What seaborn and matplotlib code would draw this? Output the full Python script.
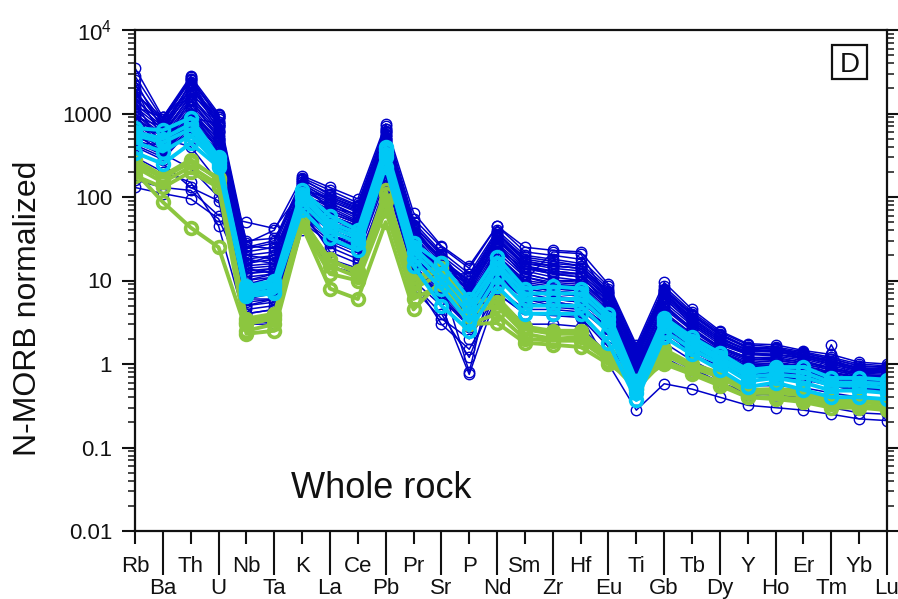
import numpy as np
import pandas as pd
import matplotlib
matplotlib.use("Agg")
import matplotlib.pyplot as plt
from matplotlib.ticker import LogLocator, NullFormatter, FixedLocator, FixedFormatter
from matplotlib.patches import Rectangle
import seaborn as sns

# ---- element order on the x axis ----
elements = ["Rb", "Ba", "Th", "U", "Nb", "Ta", "K", "La", "Ce", "Pb", "Pr", "Sr", "P", "Nd",
            "Sm", "Zr", "Hf", "Eu", "Ti", "Gb", "Tb", "Dy", "Y", "Ho", "Er", "Tm", "Yb", "Lu"]

# ---- N-MORB normalised concentrations, one list per sample ----
# dark-blue suite
blue_01 = [3500, 900, 2800, 1000, 28, 40, 170, 120, 85, 700, 55, 25, 14, 45, 22, 20, 18, 8.5, 1.6, 8.5, 4.2, 2.4, 1.7, 1.6, 1.4, 1.2, 1.0, 0.95]
blue_02 = [2800, 850, 2600, 950, 25, 30, 160, 110, 80, 650, 50, 22, 12, 40, 20, 18, 16, 8.0, 1.5, 8.0, 4.0, 2.3, 1.6, 1.5, 1.35, 1.15, 0.95, 0.9]
blue_03 = [1800, 800, 2500, 900, 22, 25, 150, 100, 75, 600, 45, 20, 11, 38, 18, 16, 15, 7.5, 1.4, 7.5, 3.8, 2.2, 1.55, 1.5, 1.3, 1.1, 0.9, 0.88]
blue_04 = [1500, 750, 2200, 850, 20, 22, 140, 95, 70, 550, 42, 18, 10, 35, 17, 15, 14, 7.0, 1.3, 7.0, 3.5, 2.0, 1.5, 1.45, 1.25, 1.05, 0.88, 0.85]
blue_05 = [1300, 700, 2000, 800, 18, 20, 130, 90, 65, 500, 40, 17, 9, 33, 16, 14, 13, 6.5, 1.2, 6.5, 3.3, 1.9, 1.4, 1.4, 1.2, 1.0, 0.85, 0.8]
blue_06 = [1200, 650, 1800, 750, 16, 18, 125, 85, 60, 480, 38, 16, 8.5, 30, 15, 13, 12, 6.0, 1.15, 6.0, 3.1, 1.8, 1.35, 1.3, 1.15, 0.95, 0.8, 0.78]
blue_07 = [1100, 600, 1600, 700, 15, 16, 120, 80, 55, 450, 35, 15, 8, 28, 14, 12, 11, 5.5, 1.1, 5.5, 2.9, 1.7, 1.3, 1.25, 1.1, 0.9, 0.78, 0.75]
blue_08 = [1000, 560, 1500, 650, 14, 15, 110, 75, 52, 420, 32, 14, 7.5, 26, 13, 11, 10, 5.0, 1.05, 5.0, 2.7, 1.6, 1.2, 1.2, 1.05, 0.88, 0.75, 0.72]
blue_09 = [900, 520, 1400, 600, 13, 14, 105, 70, 50, 400, 30, 13, 7, 24, 12, 10, 9.5, 4.8, 1.0, 4.6, 2.5, 1.5, 1.15, 1.1, 1.0, 0.85, 0.72, 0.7]
blue_10 = [800, 480, 1300, 560, 12, 13, 100, 65, 48, 380, 28, 12, 6.5, 22, 11, 9.5, 9, 4.5, 0.95, 4.2, 2.3, 1.45, 1.1, 1.05, 0.95, 0.8, 0.7, 0.68]
blue_11 = [750, 450, 1200, 520, 11, 12, 95, 60, 45, 350, 26, 11, 6, 20, 10, 9, 8.5, 4.2, 0.9, 4.0, 2.2, 1.4, 1.05, 1.0, 0.9, 0.78, 0.68, 0.65]
blue_12 = [700, 420, 1100, 480, 10, 11, 90, 55, 42, 330, 24, 10, 5.5, 19, 9.5, 8.5, 8, 4.0, 0.88, 3.8, 2.1, 1.35, 1.0, 0.95, 0.88, 0.75, 0.65, 0.62]
blue_13 = [650, 400, 1000, 450, 9, 10, 85, 50, 40, 300, 22, 9.5, 5, 18, 9, 8, 7.5, 3.8, 0.85, 3.6, 2.0, 1.3, 0.95, 0.92, 0.85, 0.72, 0.62, 0.6]
blue_14 = [600, 380, 950, 420, 8, 9, 80, 45, 36, 280, 20, 9, 4.5, 16, 8.5, 7.5, 7, 3.6, 0.8, 3.4, 1.9, 1.25, 0.9, 0.88, 0.82, 0.7, 0.6, 0.58]
blue_15 = [550, 360, 900, 400, 7, 8, 75, 42, 33, 260, 18, 8.5, 4, 15, 8, 7, 6.5, 3.4, 0.78, 3.2, 1.8, 1.2, 0.88, 0.85, 0.8, 0.68, 0.58, 0.56]
blue_16 = [500, 340, 850, 380, 6, 7, 70, 40, 30, 240, 17, 8, 3.8, 14, 7.5, 6.5, 6, 3.2, 0.75, 3.0, 1.7, 1.15, 0.85, 0.82, 0.78, 0.65, 0.55, 0.54]
blue_17 = [480, 330, 800, 350, 5.5, 6, 65, 35, 28, 220, 15, 7.5, 3.5, 13, 7, 6, 5.5, 3.0, 0.72, 2.8, 1.6, 1.1, 0.8, 0.78, 0.75, 0.62, 0.53, 0.52]
blue_18 = [450, 320, 750, 330, 5, 5.5, 60, 32, 25, 200, 14, 7, 3.2, 12, 6.5, 5.5, 5, 2.8, 0.7, 2.6, 1.5, 1.05, 0.75, 0.75, 0.72, 0.6, 0.5, 0.5]
blue_19 = [420, 300, 700, 300, 4.5, 5, 55, 30, 22, 180, 13, 6.5, 3, 11, 6, 5, 4.8, 2.6, 0.68, 2.4, 1.4, 1.0, 0.72, 0.72, 0.7, 0.58, 0.48, 0.48]
blue_20 = [400, 280, 650, 280, 4, 4.5, 50, 28, 20, 160, 12, 6, 2.8, 10, 5.5, 4.8, 4.5, 2.4, 0.65, 2.2, 1.3, 0.95, 0.7, 0.7, 0.68, 0.56, 0.46, 0.46]
blue_21 = [130, 110, 95, 55, 10, 8, 60, 25, 18, 120, 10, 5, 0.75, 7, 4, 4, 3.8, 1.0, 0.28, 0.58, 0.5, 0.4, 0.32, 0.3, 0.28, 0.25, 0.22, 0.21]
blue_22 = [160, 130, 120, 60, 50, 42, 120, 60, 45, 300, 28, 10, 0.8, 20, 10, 22, 21, 6, 0.9, 3.0, 1.2, 0.6, 0.45, 0.42, 0.4, 1.7, 0.4, 0.38]
blue_23 = [300, 200, 150, 45, 3, 3, 40, 15, 12, 80, 10, 3, 1.5, 6, 3, 3, 2.8, 1.3, 0.45, 1.2, 0.8, 0.55, 0.4, 0.38, 0.36, 0.3, 0.26, 0.25]
blue_24 = [1900, 700, 1700, 600, 30, 32, 110, 35, 25, 650, 20, 8, 4, 12, 6, 6, 5.5, 3, 0.8, 2.5, 1.5, 1.0, 0.7, 0.7, 0.65, 0.55, 0.48, 0.47]
blue_25 = [2200, 800, 2700, 900, 8, 9, 180, 130, 95, 750, 65, 26, 15, 45, 25, 23, 22, 9, 1.7, 9.5, 4.5, 2.5, 1.75, 1.7, 1.45, 1.3, 1.05, 1.0]
blue_26 = [1000, 500, 400, 150, 6, 6, 90, 30, 22, 200, 14, 7, 4, 11, 6, 5.5, 5, 2.6, 0.6, 1.8, 1.1, 0.75, 0.55, 0.55, 0.52, 0.45, 0.4, 0.38]
blue_27 = [600, 330, 220, 100, 4, 4.5, 70, 22, 16, 140, 9, 4, 1.2, 8, 4.5, 4.5, 4.2, 1.8, 0.55, 1.5, 0.9, 0.6, 0.45, 0.43, 0.42, 0.36, 0.32, 0.3]
blue_28 = [350, 250, 130, 90, 3.5, 3, 55, 18, 14, 100, 8, 3.5, 2, 7, 4, 3.8, 3.6, 1.6, 0.5, 1.3, 0.85, 0.6, 0.42, 0.4, 0.38, 0.34, 0.3, 0.28]
blue_29 = [1600, 600, 2400, 700, 24, 28, 150, 70, 50, 500, 30, 15, 10, 30, 16, 15, 14, 6, 1.3, 6.5, 3.2, 1.9, 1.35, 1.3, 1.2, 1.0, 0.85, 0.82]
blue_30 = [1200, 900, 1900, 950, 12, 14, 165, 105, 78, 600, 46, 21, 8, 36, 19, 17, 15, 7.2, 1.45, 7.8, 3.9, 2.25, 1.6, 1.55, 1.35, 1.15, 0.95, 0.92]
blue_31 = [2000, 480, 1000, 500, 18, 16, 95, 85, 58, 420, 36, 12, 12, 28, 12, 10, 10, 5.2, 1.0, 5.2, 2.6, 1.6, 1.2, 1.15, 1.05, 0.9, 0.75, 0.72]
blue_32 = [900, 700, 2300, 620, 9, 11, 135, 75, 62, 550, 40, 19, 7, 32, 15, 12, 11, 5.8, 1.2, 6.2, 3.0, 1.8, 1.3, 1.3, 1.2, 1.0, 0.82, 0.8]
blue_33 = [700, 550, 1700, 900, 16, 20, 110, 55, 40, 380, 26, 14, 9, 24, 14, 13, 12, 4.8, 0.95, 4.8, 2.6, 1.55, 1.15, 1.12, 1.0, 0.85, 0.72, 0.7]
blue_34 = [1400, 380, 1200, 420, 7, 8, 85, 65, 48, 300, 30, 10, 5, 26, 11, 9, 8.5, 4.2, 0.85, 3.9, 2.2, 1.4, 1.0, 1.0, 0.95, 0.8, 0.68, 0.66]
blue_35 = [450, 420, 1500, 500, 14, 12, 125, 60, 44, 450, 24, 16, 6, 20, 9, 8, 7.5, 3.8, 0.9, 3.7, 2.0, 1.3, 0.95, 0.95, 0.9, 0.75, 0.64, 0.62]
blue_36 = [2500, 620, 900, 750, 26, 24, 100, 40, 30, 620, 16, 9, 3.5, 14, 8, 7, 6.5, 3.3, 0.75, 3.1, 1.75, 1.15, 0.85, 0.82, 0.78, 0.66, 0.56, 0.55]
blue_37 = [1000, 350, 600, 280, 5, 6, 75, 50, 36, 260, 20, 8, 4.5, 17, 8.5, 7.5, 7, 3.5, 0.8, 3.3, 1.85, 1.2, 0.9, 0.88, 0.82, 0.7, 0.6, 0.58]
blue_38 = [800, 600, 2000, 800, 20, 18, 145, 90, 68, 520, 44, 17, 10, 38, 17, 15, 14, 6.8, 1.35, 7.2, 3.6, 2.1, 1.45, 1.45, 1.28, 1.08, 0.9, 0.86]
blue_39 = [1700, 900, 2600, 700, 10, 12, 120, 100, 72, 400, 38, 18, 9, 34, 14, 12, 12, 6.2, 1.25, 6.8, 3.4, 2.0, 1.45, 1.4, 1.25, 1.05, 0.88, 0.84]
blue_40 = [500, 450, 1100, 350, 3.5, 4, 60, 35, 26, 200, 16, 6, 3, 14, 6, 5.5, 5, 2.7, 0.6, 2.6, 1.55, 1.05, 0.78, 0.75, 0.72, 0.6, 0.52, 0.5]

# green suite
green_1 = [200, 87, 43, 25, 2.5, 3, 45, 8, 6, 50, 4.5, 10, 3, 3.1, 1.8, 1.7, 1.6, 1.0, 0.6, 1.0, 0.75, 0.55, 0.4, 0.38, 0.35, 0.3, 0.3, 0.28]
green_2 = [280, 180, 280, 160, 3.5, 4, 55, 17, 13, 120, 10, 16, 5.3, 6.3, 2.8, 2.5, 2.5, 1.3, 0.63, 1.5, 1.0, 0.78, 0.49, 0.5, 0.48, 0.4, 0.38, 0.36]
green_3 = [230, 150, 230, 140, 3, 3.5, 50, 15, 11, 90, 8, 12, 4, 5, 2.3, 2.0, 2.1, 1.2, 0.55, 1.3, 0.9, 0.7, 0.45, 0.45, 0.42, 0.36, 0.35, 0.33]
green_4 = [180, 130, 200, 130, 2.3, 2.5, 45, 12, 10, 70, 6, 9, 3, 4, 2.0, 1.9, 1.9, 1.1, 0.5, 1.1, 0.8, 0.6, 0.4, 0.4, 0.38, 0.33, 0.32, 0.3]
green_5 = [250, 170, 260, 170, 3.2, 3.8, 52, 18, 12, 110, 9, 14, 4.5, 5.5, 2.6, 2.3, 2.3, 1.25, 0.6, 1.4, 0.95, 0.72, 0.47, 0.48, 0.45, 0.38, 0.36, 0.34]

# light-blue suite
cyan_1 = [670, 630, 890, 300, 8.5, 10, 120, 60, 40, 400, 28, 16, 6, 19, 8, 8.5, 8, 4, 0.63, 3.6, 2.1, 1.35, 0.85, 0.92, 0.92, 0.68, 0.68, 0.65]
cyan_2 = [340, 250, 440, 230, 6.5, 7, 70, 32, 23, 230, 15, 5, 2.5, 8.5, 4, 4, 4, 1.8, 0.37, 2.1, 1.3, 0.85, 0.53, 0.6, 0.49, 0.4, 0.4, 0.38]
cyan_3 = [550, 450, 650, 270, 7.5, 8.5, 100, 45, 32, 330, 22, 10, 4, 14, 6, 6, 6, 3, 0.5, 3.0, 1.7, 1.1, 0.7, 0.75, 0.7, 0.55, 0.55, 0.52]
cyan_4 = [450, 350, 550, 250, 7, 7.5, 85, 40, 28, 300, 18, 8, 3.2, 11, 5, 5, 5, 2.4, 0.45, 2.5, 1.5, 1.0, 0.62, 0.68, 0.6, 0.48, 0.48, 0.45]
cyan_5 = [600, 500, 750, 280, 8, 9, 110, 50, 36, 370, 25, 12, 5, 16, 7, 7, 7, 3.5, 0.55, 3.3, 1.9, 1.2, 0.78, 0.85, 0.8, 0.6, 0.6, 0.58]

blue_samples = {f"blue_{i:02d}": v for i, v in enumerate(
    [blue_01, blue_02, blue_03, blue_04, blue_05, blue_06, blue_07, blue_08, blue_09, blue_10,
     blue_11, blue_12, blue_13, blue_14, blue_15, blue_16, blue_17, blue_18, blue_19, blue_20,
     blue_21, blue_22, blue_23, blue_24, blue_25, blue_26, blue_27, blue_28, blue_29, blue_30,
     blue_31, blue_32, blue_33, blue_34, blue_35, blue_36, blue_37, blue_38, blue_39, blue_40],
    start=1)}
green_samples = {f"green_{i}": v for i, v in enumerate([green_1, green_2, green_3, green_4, green_5], start=1)}
cyan_samples = {f"cyan_{i}": v for i, v in enumerate([cyan_1, cyan_2, cyan_3, cyan_4, cyan_5], start=1)}


def long_form(samples):
    rows = []
    for name, vals in samples.items():
        for pos, (el, v) in enumerate(zip(elements, vals)):
            rows.append({"sample": name, "pos": pos, "element": el, "value": v})
    return pd.DataFrame(rows)


df_blue = long_form(blue_samples)
df_green = long_form(green_samples)
df_cyan = long_form(cyan_samples)

sns.set_style("ticks")
plt.rcParams["font.family"] = ["Liberation Sans", "DejaVu Sans"]
plt.rcParams["mathtext.fontset"] = "custom"
plt.rcParams["mathtext.rm"] = "Liberation Sans"
plt.rcParams["mathtext.it"] = "Liberation Sans:italic"
plt.rcParams["text.color"] = "#111111"

BLUE = "#0000C8"
GREEN = "#8CC63F"
CYAN = "#00C8F5"

fig = plt.figure(figsize=(8.98, 5.99), dpi=100)
ax = fig.add_axes([135 / 898, 1 - 531 / 599, 752 / 898, 501 / 599])

common = dict(x="pos", y="value", units="sample", estimator=None, sort=False,
              marker="o", markerfacecolor="none", ax=ax, legend=False)

sns.lineplot(data=df_blue, color=BLUE, linewidth=1.1, markersize=7.5,
             markeredgecolor=BLUE, markeredgewidth=1.0, **common)
sns.lineplot(data=df_green, color=GREEN, linewidth=2.8, markersize=8.5,
             markeredgecolor=GREEN, markeredgewidth=2.6, **common)
sns.lineplot(data=df_cyan, color=CYAN, linewidth=2.8, markersize=8.5,
             markeredgecolor=CYAN, markeredgewidth=2.6, **common)

ax.set_yscale("log")
ax.set_ylim(0.01, 1e4)
ax.set_xlim(0, len(elements) - 1)
ax.set_xlabel("")
ax.set_ylabel("")

# y axis: decades with plain labels, minor ticks between
ax.yaxis.set_major_locator(FixedLocator([0.01, 0.1, 1, 10, 100, 1000, 1e4]))
ax.yaxis.set_major_formatter(FixedFormatter(["0.01", "0.1", "1", "10", "100", "1000", r"10$^{4}$"]))
ax.yaxis.set_minor_locator(LogLocator(base=10, subs=np.arange(2, 10), numticks=30))
ax.yaxis.set_minor_formatter(NullFormatter())

# x axis: alternating short/long ticks so the element names sit on two rows
pos = np.arange(len(elements))
ax.set_xticks(pos[::2], labels=elements[::2])
ax.set_xticks(pos[1::2], labels=elements[1::2], minor=True)

ax.tick_params(axis="y", which="major", direction="out", length=9.5, width=1.5,
               left=True, right=True, labelsize=16, pad=7, colors="#111111")
ax.tick_params(axis="y", which="minor", direction="out", length=5, width=1.2,
               left=True, right=True)
ax.tick_params(axis="x", which="major", direction="out", length=9, width=1.5,
               bottom=True, top=False, labelsize=16, pad=9, colors="#111111")
ax.tick_params(axis="x", which="minor", direction="out", length=32, width=1.5,
               bottom=True, top=False, labelsize=16, pad=2, colors="#111111")

for side in ["left", "right", "top", "bottom"]:
    ax.spines[side].set_visible(True)
    ax.spines[side].set_linewidth(1.6)
    ax.spines[side].set_color("#111111")

fig.text(28 / 898, 1 - 308 / 599, "N-MORB normalized", rotation=90,
         ha="center", va="center", fontsize=23)

ax.text(0.328, 0.066, "Whole rock", transform=ax.transAxes, ha="center",
        va="baseline", fontsize=26)

# panel letter in a framed box
ax.add_patch(Rectangle((0.9269, 0.9022), 0.0465, 0.0679, transform=ax.transAxes,
                       fill=False, edgecolor="#111111", linewidth=1.6, zorder=5))
ax.text(0.950, 0.917, "D", transform=ax.transAxes, ha="center", va="baseline",
        fontsize=20, zorder=6)

fig.savefig("out.png", dpi=100)
